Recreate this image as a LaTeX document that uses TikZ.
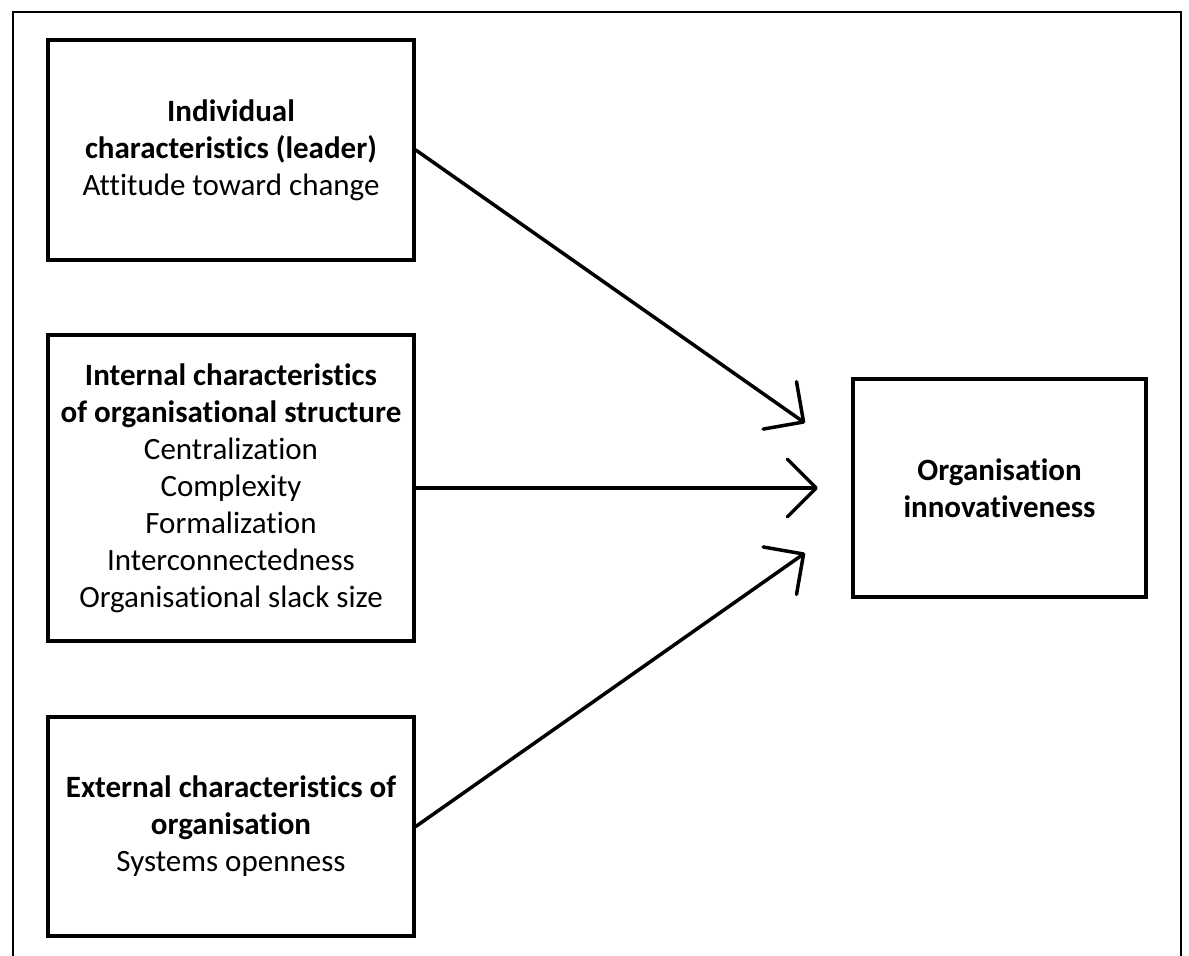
\documentclass[tikz,border=0pt]{standalone}
\usepackage{fontspec}
\setmainfont{Carlito}[RawFeature={-liga}]
\usetikzlibrary{arrows.meta}
\begin{document}
\begin{tikzpicture}[x=1pt,y=-1pt,
  box/.style={draw, line width=3.5pt, inner sep=0pt, align=center,
    font=\fontsize{31}{37}\selectfont},
  link/.style={line width=3.5pt, line cap=round,
    -{Straight Barb[length=29pt,width=58pt,line width=3.5pt,round]}}]
\useasboundingbox (0,0) rectangle (1189,956);
% outer frame (runs off the lower edge)
\draw[line width=2.2pt] (13,975) -- (13,12) -- (1181,12) -- (1181,975);

% factor boxes
\node[box, minimum width=366pt, minimum height=220pt] (lead) at (231,150)
  {\textbf{Individual}\\\textbf{characteristics (leader)}\\Attitude toward change};
\node[box, minimum width=366pt, minimum height=306pt] (struct) at (231,488)
  {\textbf{Internal characteristics}\\\textbf{of organisational structure}\\Centralization\\Complexity\\Formalization\\Interconnectedness\\Organisational slack size};
\node[box, minimum width=366pt, minimum height=219pt] (ext) at (231,826.5)
  {\textbf{External characteristics of}\\\textbf{organisation}\\Systems openness};

% outcome box
\node[box, minimum width=293pt, minimum height=218pt] (org) at (999.5,488)
  {\textbf{Organisation}\\\textbf{innovativeness}};

% arrow end points
\coordinate (tipA) at (805,423);
\coordinate (tipB) at (818,488);
\coordinate (tipC) at (805,553);

\draw[link] (lead.east) -- (tipA);
\draw[link] (struct.east) -- (tipB);
\draw[link] (ext.east) -- (tipC);
\end{tikzpicture}
\end{document}
